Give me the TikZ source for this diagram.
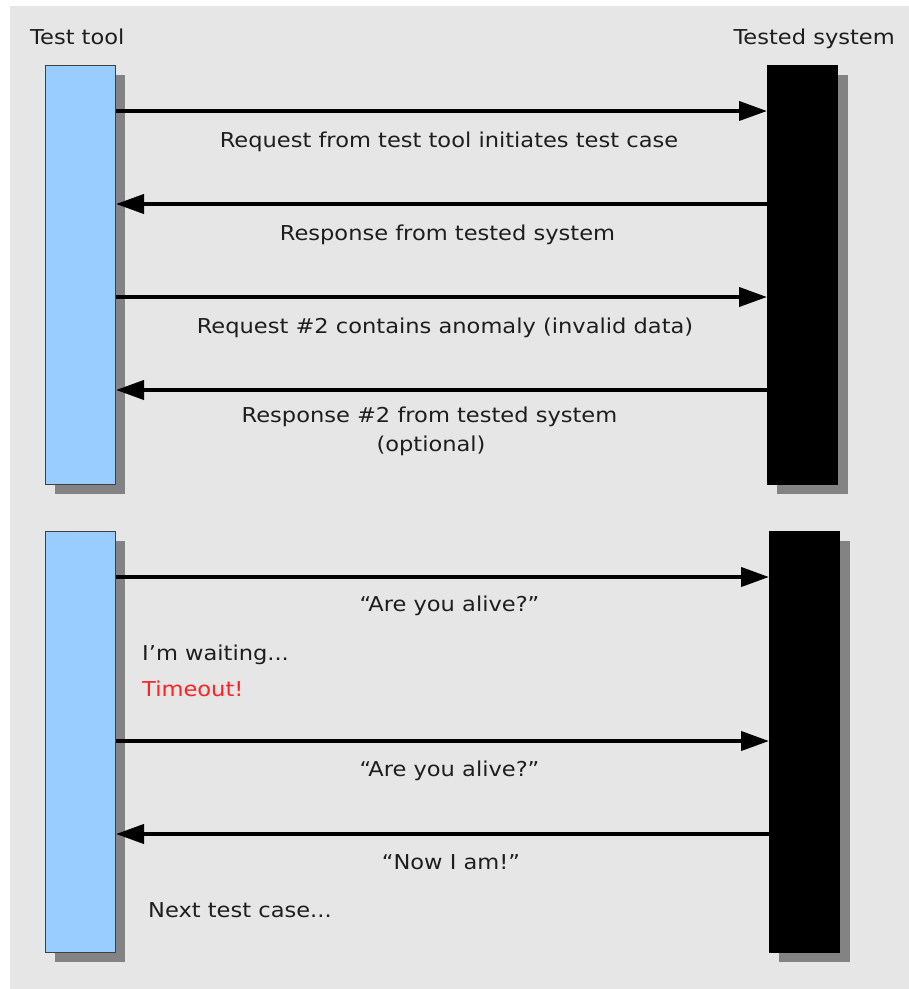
\documentclass[tikz,border=0pt]{standalone}
\usepackage{fontspec}
\setmainfont{DejaVu Sans}
\usetikzlibrary{arrows.meta}
\definecolor{bggray}{HTML}{E6E6E6}
\definecolor{toolblue}{HTML}{99CCFF}
\definecolor{shadowgray}{HTML}{838383}
\definecolor{txtgray}{HTML}{1E1E1E}
\definecolor{timeoutred}{HTML}{FF2222}
\newcommand{\tx}[1]{\scalebox{1.1}[1]{#1}}
\tikzset{
  lbl/.style={anchor=base, inner sep=0pt, text=txtgray, font=\fontsize{20.5}{25}\selectfont},
  lbll/.style={lbl, anchor=base west},
  toolbox/.style={draw=black!75, line width=1pt, fill=toolblue, inner sep=0pt, minimum width=70pt, anchor=north west},
  sysbox/.style={draw=black, line width=1pt, fill=black, inner sep=0pt, minimum width=70pt, anchor=north west},
  msg/.style={line width=4pt, -{Triangle[length=28pt,width=19pt]}, shorten >=0pt}
}
\begin{document}
\begin{tikzpicture}[x=1pt, y=-1pt]
\useasboundingbox (0,0) rectangle (909,989);
\fill[white] (0,0) rectangle (909,989);
\fill[bggray] (10,6) rectangle (909,989);
% shadows
\fill[shadowgray] (55,75) rectangle (125,494);
\fill[shadowgray] (777,75) rectangle (848,494);
\fill[shadowgray] (55,541) rectangle (125,962);
\fill[shadowgray] (779,541) rectangle (850,962);
% lifeline boxes
\node[toolbox, minimum height=419pt] (tt1) at (45,65) {};
\node[sysbox, minimum height=419pt] (ts1) at (767,65) {};
\node[toolbox, minimum height=421pt] (tt2) at (45,531) {};
\node[sysbox, minimum height=421pt] (ts2) at (769,531) {};
% headers
\node[lbll] (h1) at (30,44) {\tx{Test tool}};
\node[lbl, anchor=base east] (h2) at (895,44) {\tx{Tested system}};
% arrow levels
\coordinate (a1) at (0,111);
\coordinate (a2) at (0,204);
\coordinate (a3) at (0,297);
\coordinate (a4) at (0,390);
\coordinate (a5) at (0,577);
\coordinate (a6) at (0,741);
\coordinate (a7) at (0,834);
\draw[msg] (tt1.east |- a1) -- (ts1.west |- a1);
\draw[msg] (ts1.west |- a2) -- (tt1.east |- a2);
\draw[msg] (tt1.east |- a3) -- (ts1.west |- a3);
\draw[msg] (ts1.west |- a4) -- (tt1.east |- a4);
\draw[msg] (tt2.east |- a5) -- (ts2.west |- a5);
\draw[msg] (tt2.east |- a6) -- (ts2.west |- a6);
\draw[msg] (ts2.west |- a7) -- (tt2.east |- a7);
% labels
\node[lbl] (l1) at (449,147) {\tx{Request from test tool initiates test case}};
\node[lbl] (l2) at (447.5,240) {\tx{Response from tested system}};
\node[lbl] (l3) at (445,333) {\tx{Request \#2 contains anomaly (invalid data)}};
\node[lbl] (l4) at (429.5,422) {\tx{Response \#2 from tested system}};
\node[lbl] (l5) at (431,451) {\tx{(optional)}};
\node[lbl] (l6) at (449.5,611) {\tx{“Are you alive?”}};
\node[lbll] (l7) at (142,660) {\tx{I’m waiting...}};
\node[lbll, text=timeoutred] (l8) at (142,696) {\tx{Timeout!}};
\node[lbl] (l9) at (449.5,776) {\tx{“Are you alive?”}};
\node[lbl] (l10) at (451,869) {\tx{“Now I am!”}};
\node[lbll] (l11) at (148,917) {\tx{Next test case...}};
\end{tikzpicture}
\end{document}
